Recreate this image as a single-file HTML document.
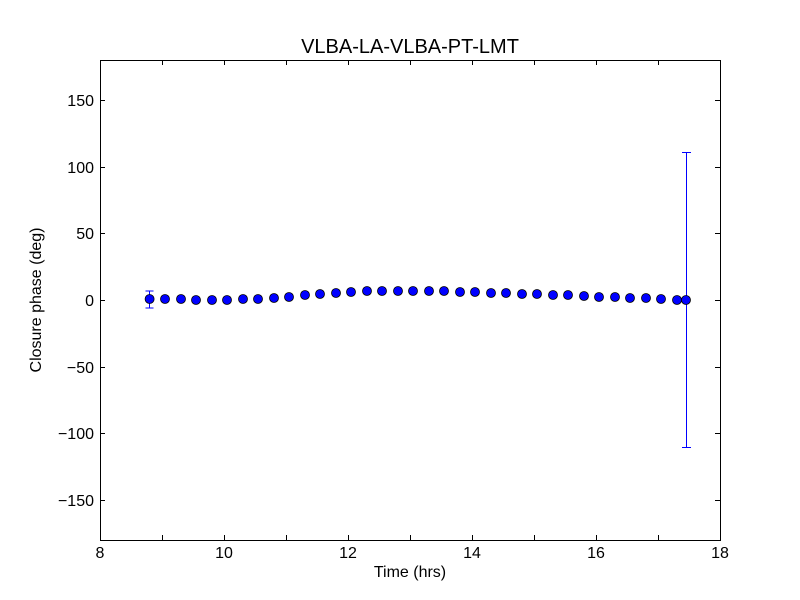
<!DOCTYPE html>
<html><head><style>body{margin:0;background:#fff}svg{display:block}</style></head><body>
<svg width="800" height="600" xmlns="http://www.w3.org/2000/svg" font-family="Liberation Sans, DejaVu Sans, sans-serif">
<rect width="800" height="600" fill="#fff"/>
<text x="410" y="53" font-size="20" text-anchor="middle">VLBA-LA-VLBA-PT-LMT</text>
<g stroke="#000" stroke-width="1">
<rect x="100.5" y="60.5" width="620" height="480" fill="none"/>
<path d="M100.5 540v-5M162.5 540v-5M224.5 540v-5M286.5 540v-5M348.5 540v-5M410.5 540v-5M472.5 540v-5M534.5 540v-5M596.5 540v-5M658.5 540v-5M720.5 540v-5
M100.5 60v5M162.5 60v5M224.5 60v5M286.5 60v5M348.5 60v5M410.5 60v5M472.5 60v5M534.5 60v5M596.5 60v5M658.5 60v5M720.5 60v5"/>
<path d="M100 100.5h5M100 167.5h5M100 233.5h5M100 300.5h5M100 367.5h5M100 433.5h5M100 500.5h5
M720 100.5h-5M720 167.5h-5M720 233.5h-5M720 300.5h-5M720 367.5h-5M720 433.5h-5M720 500.5h-5"/>
</g>
<g font-size="16" text-anchor="middle">
<text x="100" y="558">8</text><text x="224" y="558">10</text><text x="348" y="558">12</text><text x="472" y="558">14</text><text x="596" y="558">16</text><text x="720" y="558">18</text>
</g>
<g font-size="16" text-anchor="end">
<text x="94" y="106">150</text><text x="94" y="173">100</text><text x="94" y="239">50</text><text x="94" y="306">0</text><text x="94" y="373">−50</text><text x="94" y="439">−100</text><text x="94" y="506">−150</text>
</g>
<text x="410" y="577" font-size="16" text-anchor="middle">Time (hrs)</text>
<text transform="translate(41 300) rotate(-90)" font-size="16" text-anchor="middle">Closure phase (deg)</text>
<g stroke="#0000ff" stroke-width="1">
<path d="M149.5 291v17M145.5 291h8M145.5 308h8"/>
<path d="M686.5 152v296M682 152.5h9M682 447.5h9"/>
</g>
<g fill="#0000ff" stroke="#000" stroke-width="0.8">
<circle cx="149.6" cy="299" r="4.5"/><circle cx="165" cy="299" r="4.5"/><circle cx="181" cy="299" r="4.5"/><circle cx="196" cy="300" r="4.5"/><circle cx="212" cy="300" r="4.5"/><circle cx="227" cy="300" r="4.5"/><circle cx="243" cy="299" r="4.5"/><circle cx="258" cy="299" r="4.5"/><circle cx="274" cy="298" r="4.5"/><circle cx="289" cy="297" r="4.5"/><circle cx="305" cy="295" r="4.5"/><circle cx="320" cy="294" r="4.5"/><circle cx="336" cy="293" r="4.5"/><circle cx="351" cy="292" r="4.5"/><circle cx="367" cy="291" r="4.5"/><circle cx="382" cy="291" r="4.5"/><circle cx="398" cy="291" r="4.5"/><circle cx="413" cy="291" r="4.5"/><circle cx="429" cy="291" r="4.5"/><circle cx="444" cy="291" r="4.5"/><circle cx="460" cy="292" r="4.5"/><circle cx="475" cy="292" r="4.5"/><circle cx="491" cy="293" r="4.5"/><circle cx="506" cy="293" r="4.5"/><circle cx="522" cy="294" r="4.5"/><circle cx="537" cy="294" r="4.5"/><circle cx="553" cy="295" r="4.5"/><circle cx="568" cy="295" r="4.5"/><circle cx="584" cy="296" r="4.5"/><circle cx="599" cy="297" r="4.5"/><circle cx="615" cy="297" r="4.5"/><circle cx="630" cy="298" r="4.5"/><circle cx="646" cy="298" r="4.5"/><circle cx="661" cy="299" r="4.5"/><circle cx="677" cy="300" r="4.5"/><circle cx="686" cy="300" r="4.5"/>
</g>
</svg>
</body></html>
